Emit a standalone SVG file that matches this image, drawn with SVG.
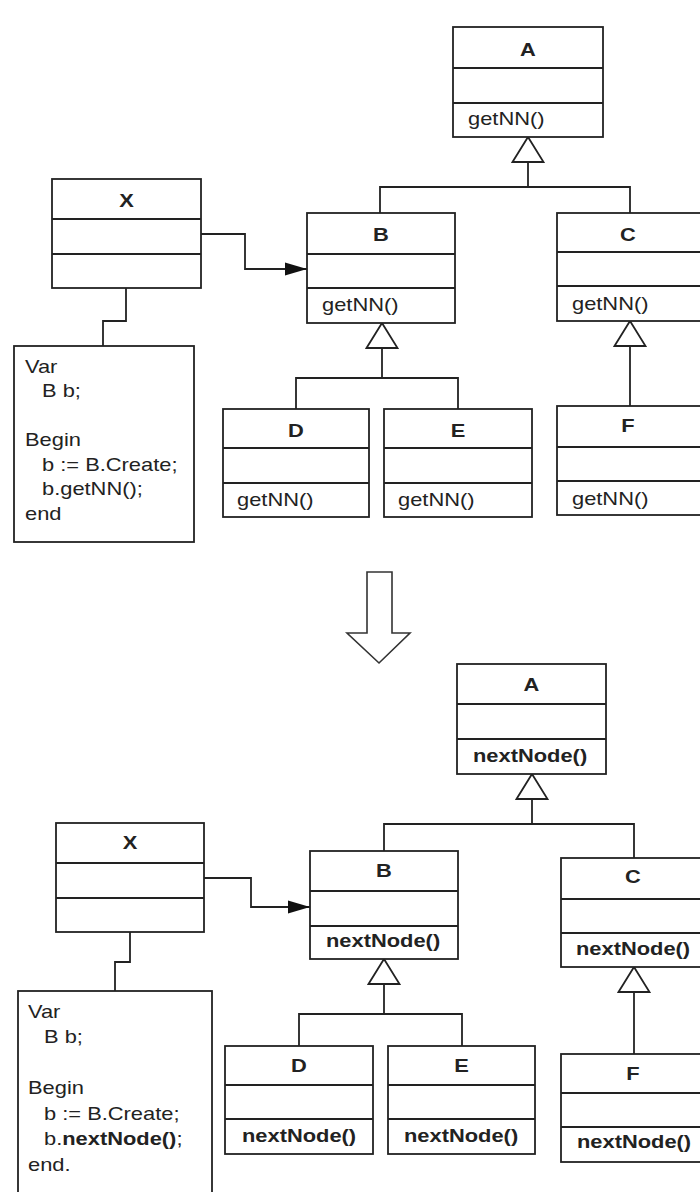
<svg xmlns="http://www.w3.org/2000/svg" width="700" height="1192" viewBox="0 0 700 1192">
<style>
.box{fill:#fff;stroke:#222;stroke-width:1.8}
.div{fill:none;stroke:#222;stroke-width:1.8}
.ln{fill:none;stroke:#222;stroke-width:1.8}
.gen{marker-end:url(#gen)}
.assoc{marker-end:url(#arr)}
text{font-family:"Liberation Sans",Arial,Helvetica,sans-serif;font-size:17.5px;fill:#222}
.b{font-weight:bold}
.c{text-anchor:middle}
</style>
<defs>
<marker id="gen" viewBox="0 0 25 31" refX="25" refY="15.5" markerWidth="25" markerHeight="31" markerUnits="userSpaceOnUse" orient="auto" overflow="visible">
<path d="M0,0 L25,15.5 L0,31 Z" fill="#fff" stroke="#222" stroke-width="1.8" stroke-linejoin="miter"/>
</marker>
<marker id="arr" viewBox="0 0 22 13" refX="22" refY="6.5" markerWidth="22" markerHeight="13" markerUnits="userSpaceOnUse" orient="auto" overflow="visible">
<path d="M0,0 L22,6.5 L0,13 Z" fill="#111"/>
</marker>
</defs>
<rect x="0" y="0" width="700" height="1192" fill="#fff"/>

<g id="connectors">
<!-- top -->
<path class="ln" d="M380,213 V187 H630 V213"/>
<path class="ln gen" d="M528,187 V137"/>
<path class="ln" d="M296,409 V378 H458 V409"/>
<path class="ln gen" d="M382,378 V323"/>
<path class="ln gen" d="M630,406 V321"/>
<path class="ln assoc" d="M201,234 H245 V269 H307"/>
<path class="ln" d="M126,288 V321 H103 V346"/>
<!-- bottom -->
<path class="ln" d="M384,851 V824 H634 V858"/>
<path class="ln gen" d="M532,824 V774"/>
<path class="ln" d="M299,1046 V1014 H462 V1046"/>
<path class="ln gen" d="M384,1014 V959"/>
<path class="ln gen" d="M634,1054 V967"/>
<path class="ln assoc" d="M204,878 H251 V907 H310"/>
<path class="ln" d="M130,932 V962 H115 V991"/>
</g>

<g id="refactor-arrow">
<polygon points="367,572 392,572 392,633 410,633 379,663 347,633 367,633" fill="#fff" stroke="#333" stroke-width="1.6"/>
</g>

<!-- top diagram -->
<g id="A1">
<rect class="box" x="453" y="27" width="150" height="110"/>
<path class="div" d="M453,68H603M453,103H603"/>
<g transform="scale(1.25 1)">
<text class="b c" x="422.4" y="56">A</text>
<text x="374.4" y="125">getNN()</text>
</g>
</g>
<g id="X1">
<rect class="box" x="52" y="179" width="149" height="109"/>
<path class="div" d="M52,219H201M52,254H201"/>
<g transform="scale(1.25 1)">
<text class="b c" x="101.2" y="207">X</text>
</g>
</g>
<g id="B1">
<rect class="box" x="307" y="213" width="148" height="110"/>
<path class="div" d="M307,254H455M307,288H455"/>
<g transform="scale(1.25 1)">
<text class="b c" x="304.8" y="241">B</text>
<text x="257.6" y="311">getNN()</text>
</g>
</g>
<g id="C1">
<rect class="box" x="557" y="213" width="150" height="108"/>
<path class="div" d="M557,252H707M557,286H707"/>
<g transform="scale(1.25 1)">
<text class="b c" x="502.4" y="241">C</text>
<text x="457.6" y="310">getNN()</text>
</g>
</g>
<g id="D1">
<rect class="box" x="223" y="409" width="146" height="108"/>
<path class="div" d="M223,448H369M223,483H369"/>
<g transform="scale(1.25 1)">
<text class="b c" x="236.8" y="437">D</text>
<text x="189.6" y="506">getNN()</text>
</g>
</g>
<g id="E1">
<rect class="box" x="384" y="409" width="148" height="108"/>
<path class="div" d="M384,448H532M384,483H532"/>
<g transform="scale(1.25 1)">
<text class="b c" x="366.4" y="437">E</text>
<text x="318.4" y="506">getNN()</text>
</g>
</g>
<g id="F1">
<rect class="box" x="557" y="406" width="150" height="109"/>
<path class="div" d="M557,447H707M557,481H707"/>
<g transform="scale(1.25 1)">
<text class="b c" x="502.4" y="432">F</text>
<text x="457.6" y="505">getNN()</text>
</g>
</g>
<g id="Note1">
<rect class="box" x="14" y="346" width="180" height="196"/>
<g transform="scale(1.25 1)">
<text x="20" y="373">Var</text>
<text x="33.6" y="397.5">B b;</text>
<text x="20" y="446.5">Begin</text>
<text x="33.6" y="471">b := B.Create;</text>
<text x="33.6" y="495.5">b.getNN();</text>
<text x="20" y="520">end</text>
</g>
</g>

<!-- bottom diagram -->
<g id="A2">
<rect class="box" x="457" y="664" width="149" height="110"/>
<path class="div" d="M457,704H606M457,739H606"/>
<g transform="scale(1.25 1)">
<text class="b c" x="425.2" y="691">A</text>
<text class="b" x="378.4" y="762">nextNode()</text>
</g>
</g>
<g id="X2">
<rect class="box" x="56" y="823" width="148" height="109"/>
<path class="div" d="M56,863H204M56,898H204"/>
<g transform="scale(1.25 1)">
<text class="b c" x="104" y="849">X</text>
</g>
</g>
<g id="B2">
<rect class="box" x="310" y="851" width="148" height="108"/>
<path class="div" d="M310,891H458M310,926H458"/>
<g transform="scale(1.25 1)">
<text class="b c" x="307.2" y="877">B</text>
<text class="b" x="260.8" y="947">nextNode()</text>
</g>
</g>
<g id="C2">
<rect class="box" x="561" y="858" width="150" height="109"/>
<path class="div" d="M561,899H711M561,933H711"/>
<g transform="scale(1.25 1)">
<text class="b c" x="506.4" y="883">C</text>
<text class="b" x="460.8" y="955">nextNode()</text>
</g>
</g>
<g id="D2">
<rect class="box" x="225" y="1046" width="148" height="108"/>
<path class="div" d="M225,1085H373M225,1119H373"/>
<g transform="scale(1.25 1)">
<text class="b c" x="239.2" y="1072">D</text>
<text class="b" x="193.6" y="1142">nextNode()</text>
</g>
</g>
<g id="E2">
<rect class="box" x="388" y="1046" width="147" height="108"/>
<path class="div" d="M388,1085H535M388,1119H535"/>
<g transform="scale(1.25 1)">
<text class="b c" x="369.2" y="1072">E</text>
<text class="b" x="323.2" y="1142">nextNode()</text>
</g>
</g>
<g id="F2">
<rect class="box" x="561" y="1054" width="150" height="108"/>
<path class="div" d="M561,1093H711M561,1127H711"/>
<g transform="scale(1.25 1)">
<text class="b c" x="506.4" y="1080">F</text>
<text class="b" x="461.6" y="1148">nextNode()</text>
</g>
</g>
<g id="Note2">
<rect class="box" x="18" y="991" width="194" height="215"/>
<g transform="scale(1.25 1)">
<text x="22.4" y="1018">Var</text>
<text x="35.2" y="1043.5">B b;</text>
<text x="22.4" y="1094.5">Begin</text>
<text x="35.2" y="1120">b := B.Create;</text>
<text x="35.2" y="1145.5">b.<tspan class="b">nextNode()</tspan>;</text>
<text x="22.4" y="1171">end.</text>
</g>
</g>
</svg>
